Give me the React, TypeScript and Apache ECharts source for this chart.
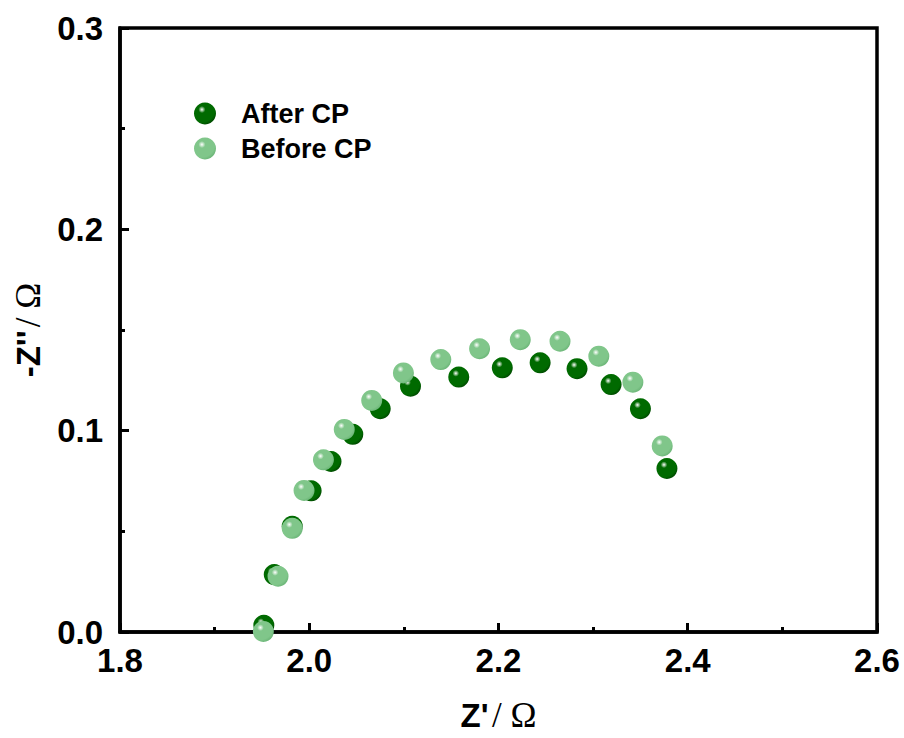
import React, { useEffect, useRef } from "react";
import * as echarts from "echarts";

const afterX = [1.952, 1.963, 1.982, 2.002, 2.023, 2.046, 2.075, 2.107, 2.158, 2.204, 2.244, 2.283, 2.319, 2.350, 2.378];
const afterY = [0.0033, 0.0285, 0.0525, 0.0701, 0.0847, 0.0982, 0.1109, 0.1221, 0.1266, 0.1312, 0.1337, 0.1308, 0.1229, 0.1109, 0.0812];
const beforeX = [1.9515, 1.967, 1.982, 1.9945, 2.015, 2.037, 2.066, 2.0995, 2.139, 2.180, 2.223, 2.265, 2.306, 2.342, 2.373];
const beforeY = [0.0003, 0.0277, 0.0515, 0.0703, 0.0855, 0.1006, 0.115, 0.1287, 0.1353, 0.1407, 0.1452, 0.1444, 0.137, 0.1241, 0.0924];

const xTicks = [1.8, 2.0, 2.2, 2.4, 2.6];
const yTicks = [0.0, 0.1, 0.2, 0.3];

const seriesNames = ["After CP", "Before CP"];

function sphere(base: string, dark: string) {
  return new echarts.graphic.RadialGradient(0.36, 0.32, 0.72, [
    { offset: 0, color: "#ffffff" },
    { offset: 0.22, color: base },
    { offset: 0.8, color: base },
    { offset: 1, color: dark },
  ]);
}

export default function App() {
  const ref = useRef<HTMLDivElement>(null);
  useEffect(() => {
    if (!ref.current) return;
    const chart = echarts.init(ref.current, undefined, { renderer: "svg" });
    const axisFont = { fontFamily: "Liberation Sans", fontWeight: "bold" as const, fontSize: 33, color: "#000" };
    const rich = {
      b: { fontFamily: "Liberation Sans", fontWeight: "bold", fontSize: 33, color: "#000" },
      s: { fontFamily: "Liberation Serif", fontSize: 35, color: "#000" },
    };
    chart.setOption({
      animation: false,
      backgroundColor: "#fff",
      grid: { left: 120, right: 27, top: 28, bottom: 103, show: true, borderColor: "#000", borderWidth: 3.5, backgroundColor: "transparent" },
      legend: {
        show: true,
        orient: "vertical",
        left: 189,
        top: 95,
        itemWidth: 22,
        itemHeight: 22,
        itemGap: 8,
        icon: "circle",
        textStyle: { fontFamily: "Liberation Sans", fontWeight: "bold", fontSize: 27, color: "#000", padding: [0, 0, 0, 20] },
        data: seriesNames,
      },
      xAxis: {
        type: "value",
        min: xTicks[0],
        max: xTicks[xTicks.length - 1],
        interval: 0.2,
        name: "{b|Z'} {s|/ Ω}",
        nameLocation: "middle",
        nameGap: 66,
        nameTextStyle: { rich },
        axisLine: { show: true, lineStyle: { color: "#000", width: 3.5 } },
        axisTick: { show: true, inside: true, length: 9, lineStyle: { color: "#000", width: 3 } },
        minorTick: { show: true, splitNumber: 2, length: 5, lineStyle: { color: "#000", width: 3 } },
        splitLine: { show: false },
        axisLabel: { ...axisFont, margin: 12, formatter: (v: number) => v.toFixed(1) },
      },
      yAxis: {
        type: "value",
        min: yTicks[0],
        max: yTicks[yTicks.length - 1],
        interval: 0.1,
        name: "{b|-Z''} {s|/ Ω}",
        nameLocation: "middle",
        nameGap: 62,
        nameRotate: 90,
        nameTextStyle: { rich },
        axisLine: { show: true, lineStyle: { color: "#000", width: 3.5 } },
        axisTick: { show: true, inside: true, length: 9, lineStyle: { color: "#000", width: 3 } },
        minorTick: { show: true, splitNumber: 2, length: 5, lineStyle: { color: "#000", width: 3 } },
        splitLine: { show: false },
        axisLabel: { ...axisFont, margin: 17, formatter: (v: number) => v.toFixed(1) },
      },
      series: [
        {
          name: seriesNames[0],
          type: "scatter",
          symbol: "circle",
          symbolSize: 21,
          z: 2,
          itemStyle: { color: sphere("#006a00", "#004800"), opacity: 1 },
          data: afterX.map((x, i) => [x, afterY[i]]),
        },
        {
          name: seriesNames[1],
          type: "scatter",
          symbol: "circle",
          symbolSize: 21,
          z: 3,
          itemStyle: { color: sphere("#80c68a", "#6bb577"), opacity: 1 },
          data: beforeX.map((x, i) => [x, beforeY[i]]),
        },
      ],
    });
    return () => chart.dispose();
  }, []);
  return <div ref={ref} style={{ width: 904, height: 738, position: "absolute", left: 0, top: 0 }} />;
}
